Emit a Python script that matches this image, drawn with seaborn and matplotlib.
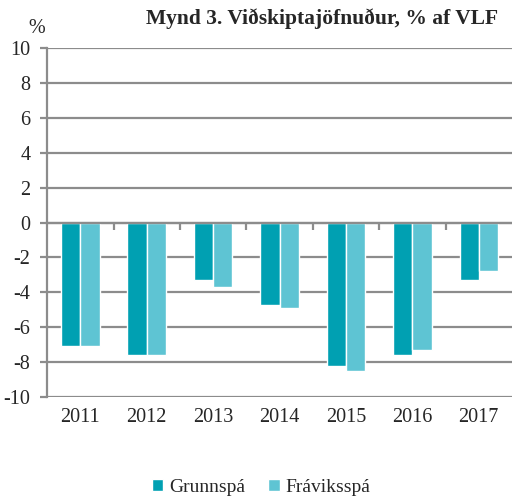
import matplotlib.pyplot as plt
import seaborn as sns
import pandas as pd

years = ['2011', '2012', '2013', '2014', '2015', '2016', '2017']
grunnspa = [-7.1, -7.6, -3.3, -4.7, -8.2, -7.6, -3.3]
fraviksspa = [-7.1, -7.6, -3.7, -4.9, -8.5, -7.3, -2.8]
series = ['Grunnspá', 'Fráviksspá']
colors = ['#00A0B2', '#5EC4D3']

df = pd.DataFrame({
    'year': years * 2,
    'value': grunnspa + fraviksspa,
    'series': [series[0]] * len(years) + [series[1]] * len(years),
})

sns.set_theme(style='white')
plt.rcParams['font.family'] = ['Liberation Serif', 'DejaVu Serif']
plt.rcParams['axes.unicode_minus'] = False
grid_c = '#8c8c8c'
fs = 14.5

fig = plt.figure(figsize=(5.12, 4.99), dpi=100)
ax = fig.add_axes([0.092, 0.2044, 0.908, 0.6994])

sns.barplot(data=df, x='year', y='value', hue='series', palette=colors,
            width=0.58, saturation=1, ax=ax, legend=True)

ax.set_ylim(-10, 10)
ax.set_xlim(-0.5, len(years) - 0.5)
ax.set_yticks(range(-10, 11, 2))
ax.yaxis.grid(True, color=grid_c, linewidth=1.6)
ax.set_axisbelow(True)
for s in ['top', 'right', 'bottom']:
    ax.spines[s].set_visible(False)
ax.spines['left'].set_color(grid_c)
ax.spines['left'].set_linewidth(1.6)
ax.tick_params(axis='y', length=5, width=1.6, color=grid_c, labelsize=fs, pad=7, left=True)
ax.tick_params(axis='x', length=0, labelsize=fs, pad=8)
ax.set_xlabel('')
ax.set_ylabel('')

# category separator ticks along the zero line (twiny shares the y axis)
ax2 = ax.twiny()
ax2.set_xlim(ax.get_xlim())
ax2.patch.set_visible(False)
for s in ['top', 'right', 'left']:
    ax2.spines[s].set_visible(False)
ax2.spines['bottom'].set_position(('data', 0))
ax2.spines['bottom'].set_color(grid_c)
ax2.spines['bottom'].set_linewidth(1.6)
ax2.xaxis.set_ticks_position('bottom')
ax2.set_xticks([i + 0.5 for i in range(len(years) - 1)])
ax2.tick_params(axis='x', bottom=True, top=False, labelbottom=False, labeltop=False,
                length=5, width=1.6, color=grid_c, direction='out')

fig.text(0.972, 0.952, 'Mynd 3. Viðskiptajöfnuður, % af VLF', ha='right', va='baseline',
         fontsize=15.5, fontweight='bold')
fig.text(0.071, 0.934, '%', ha='center', va='baseline', fontsize=fs)

handles, labels = ax.get_legend_handles_labels()
ax.legend_.remove()
fig.legend(handles, labels, loc='center', bbox_to_anchor=(0.51, 0.024), ncol=2, frameon=False,
           fontsize=14, handlelength=0.6, handleheight=0.6, handletextpad=0.3, columnspacing=1.2)

fig.savefig('out.png', dpi=100)
